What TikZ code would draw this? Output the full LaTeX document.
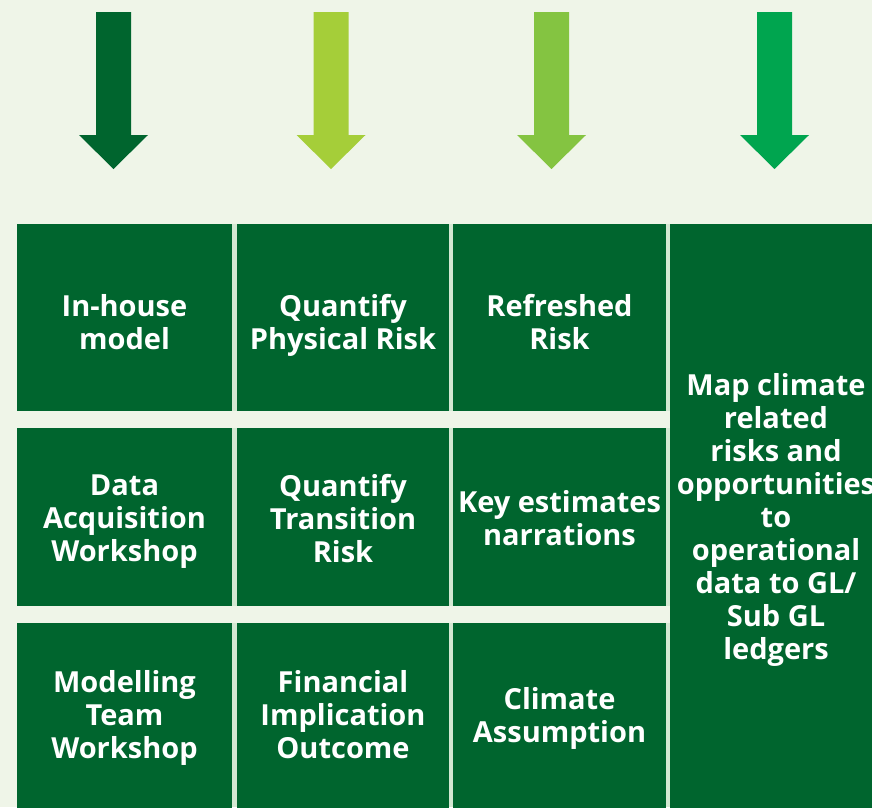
\documentclass[tikz,border=0pt]{standalone}
\usepackage{fontspec}
\setmainfont{Open Sans}[BoldFont={* Bold}]
\definecolor{bgc}{HTML}{EFF5E8}
\definecolor{dkg}{HTML}{00652E}
\definecolor{lime}{HTML}{A5CE39}
\definecolor{midg}{HTML}{84C441}
\definecolor{brg}{HTML}{00A54F}
\definecolor{gapline}{HTML}{D3E8D2}
\tikzset{
  cell/.style={fill=dkg, draw=none},
  lbl/.style={text=white, font=\bfseries\fontsize{29}{33}\selectfont, align=center, inner sep=0pt,
    execute at begin node=\strut, execute at end node=\strut}
}
\newcommand{\dnarr}[2]{%
  \fill[#2] (#1-17.5,12) -- (#1+17.5,12) -- (#1+17.5,135) -- (#1+34.5,135) -- (#1,169) -- (#1-34.5,135) -- (#1-17.5,135) -- cycle;}
\begin{document}
\begin{tikzpicture}[x=1pt,y=-1pt]
\clip (0,0) rectangle (872,807);
\fill[bgc] (0,0) rectangle (872,807);
\useasboundingbox (0,0) rectangle (872,807);
% arrows
\dnarr{113.5}{dkg}
\dnarr{331}{lime}
\dnarr{551.5}{midg}
\dnarr{774.5}{brg}
% cells
\fill[gapline] (17,224) rectangle (880,807);
\fill[bgc] (17,410.5) rectangle (670,427.5);
\fill[bgc] (17,606) rectangle (670,623);
\fill[cell] (17,224) rectangle (232.3,410.5);
\fill[cell] (236.7,224) rectangle (449.3,410.5);
\fill[cell] (453.3,224) rectangle (665.7,410.5);
\fill[cell] (17,427.5) rectangle (232.3,606);
\fill[cell] (236.7,427.5) rectangle (449.3,606);
\fill[cell] (453.3,427.5) rectangle (665.7,606);
\fill[cell] (17,623) rectangle (232.3,810);
\fill[cell] (236.7,623) rectangle (449.3,810);
\fill[cell] (453.3,623) rectangle (665.7,810);
\fill[cell] (670,224) rectangle (880,810);
% labels
\node[lbl] (a1) at (124.5,326.5) {In-house\\model};
\node[lbl] (b1) at (343,326.5) {Quantify\\Physical Risk};
\node[lbl] (c1) at (559.5,326.5) {Refreshed\\Risk};
\node[lbl] (a2) at (124.5,523) {Data\\Acquisition\\Workshop};
\node[lbl] (b2) at (343,523) {Quantify\\Transition\\Risk};
\node[lbl] (c2) at (559.5,523) {Key estimates\\narrations};
\node[lbl] (a3) at (124.5,719.5) {Modelling\\Team\\Workshop};
\node[lbl] (b3) at (343,719.5) {Financial\\Implication\\Outcome};
\node[lbl] (c3) at (559.5,719.5) {Climate\\Assumption};
\node[lbl] (d) at (776,521) {Map climate\\related\\risks and\\opportunities\\to\\operational\\data to GL/\\Sub GL\\ledgers};
\end{tikzpicture}
\end{document}
